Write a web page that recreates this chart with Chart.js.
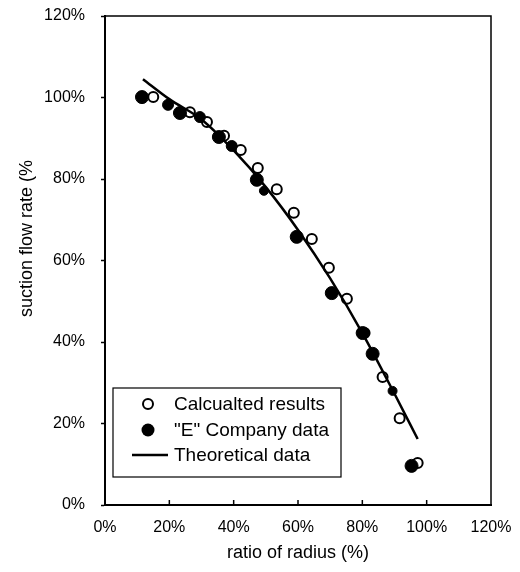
<!DOCTYPE html>
<html><head><meta charset="utf-8">
<script src="https://cdn.jsdelivr.net/npm/chart.js@4"></script>
<style>html,body{margin:0;padding:0;background:#fff;}</style>
</head><body>
<canvas id="c" width="520" height="572"></canvas>
<script>
// ---- data ----
const xTickValues = [0, 20, 40, 60, 80, 100, 120];
const yTickValues = [0, 20, 40, 60, 80, 100, 120];
const seriesNames = ['Calcualted results', '"E" Company data', 'Theoretical data'];
const xTitle = 'ratio of radius (%)';
const yTitle = 'suction flow rate (%';

const calcX = [15.0, 26.4, 31.7, 37.0, 42.2, 47.5, 53.4, 58.7, 64.3, 69.6, 75.2, 80.7, 86.3, 91.6, 97.2];
const calcY = [100.1, 96.4, 94.0, 90.6, 87.1, 82.7, 77.5, 71.7, 65.3, 58.2, 50.6, 42.2, 31.4, 21.3, 10.3];

const compX = [11.5, 19.6, 23.3, 29.5, 35.4, 39.4, 47.2, 49.4, 59.6, 70.5, 80.1, 83.2, 89.4, 95.3];
const compY = [100.1, 98.2, 96.2, 95.2, 90.3, 88.1, 79.8, 77.1, 65.8, 52.0, 42.2, 37.1, 28.0, 9.6];

const theoX = [11.8, 20, 30, 40, 50, 60, 70, 80, 90, 97.2];
const theoY = [104.5, 99.6, 94.6, 87.0, 78.0, 67.5, 55.6, 42.2, 27.3, 16.2];

const toPts = (xs, ys) => xs.map((x, i) => ({x: x, y: ys[i]}));
const FONT = '"Liberation Sans", Arial, sans-serif';

const framePlugin = {
  id: 'frame',
  beforeDatasetsDraw(chart) {
    const {ctx, chartArea: a, scales} = chart;
    ctx.save();
    ctx.strokeStyle = '#000';
    ctx.lineWidth = 1.5;
    ctx.strokeRect(a.left, a.top, a.right - a.left, a.bottom - a.top);
    xTickValues.forEach(v => {
      if (v === 0 || v === 120) return;
      const px = scales.x.getPixelForValue(v);
      ctx.beginPath(); ctx.moveTo(px, a.bottom); ctx.lineTo(px, a.bottom - 5); ctx.stroke();
    });
    // y axis title (offset upward as in the reference)
    ctx.translate(27, (a.top + a.bottom) / 2 - 22);
    ctx.rotate(-Math.PI / 2);
    ctx.font = '18px ' + FONT;
    ctx.fillStyle = '#000';
    ctx.textAlign = 'center';
    ctx.textBaseline = 'middle';
    ctx.fillText(yTitle, 0, 0);
    ctx.restore();
  }
};

const legendPlugin = {
  id: 'boxLegend',
  afterDraw(chart) {
    const {ctx, chartArea: a} = chart;
    const left = a.left + 8, top = a.bottom - 117, w = 228, h = 89;
    ctx.save();
    ctx.fillStyle = '#fff';
    ctx.fillRect(left, top, w, h);
    ctx.strokeStyle = '#000';
    ctx.lineWidth = 1.2;
    ctx.strokeRect(left, top, w, h);
    ctx.font = '19px ' + FONT;
    ctx.textBaseline = 'middle';
    const rows = [top + 16, top + 42, top + 67];
    const mx = left + 35;
    ctx.beginPath(); ctx.arc(mx, rows[0], 5, 0, Math.PI * 2);
    ctx.fillStyle = '#fff'; ctx.fill(); ctx.lineWidth = 2; ctx.strokeStyle = '#000'; ctx.stroke();
    ctx.beginPath(); ctx.arc(mx, rows[1], 6.5, 0, Math.PI * 2);
    ctx.fillStyle = '#000'; ctx.fill();
    ctx.beginPath(); ctx.moveTo(left + 19, rows[2]); ctx.lineTo(left + 55, rows[2]);
    ctx.lineWidth = 2.5; ctx.stroke();
    ctx.fillStyle = '#000';
    chart.data.datasets.forEach((d, i) => ctx.fillText(d.label, left + 61, rows[i] + 1));
    ctx.restore();
  }
};

new Chart(document.getElementById('c'), {
  type: 'scatter',
  data: {
    datasets: [
      {
        label: seriesNames[0],
        data: toPts(calcX, calcY),
        pointStyle: 'circle',
        pointRadius: 5,
        pointBorderWidth: 2,
        pointBackgroundColor: '#fff',
        pointBorderColor: '#000',
        showLine: false,
        order: 2
      },
      {
        label: seriesNames[1],
        data: toPts(compX, compY),
        pointStyle: 'circle',
        pointRadius: [6.5, 5.5, 6.5, 5.5, 6.5, 5.5, 6.5, 4.5, 6.5, 6.5, 6.5, 6.5, 4.5, 6.5],
        pointBorderWidth: 1,
        pointBackgroundColor: '#000',
        pointBorderColor: '#000',
        showLine: false,
        order: 0
      },
      {
        label: seriesNames[2],
        data: toPts(theoX, theoY),
        showLine: true,
        pointRadius: 0,
        borderColor: '#000',
        borderWidth: 2.5,
        cubicInterpolationMode: 'monotone',
        fill: false,
        order: 1
      }
    ]
  },
  options: {
    responsive: false,
    animation: false,
    devicePixelRatio: 1,
    layout: {padding: {left: 0, right: 29, top: 16, bottom: 0}},
    plugins: {legend: {display: false}, tooltip: {enabled: false}},
    scales: {
      x: {
        type: 'linear', min: 0, max: 120,
        afterBuildTicks: s => { s.ticks = xTickValues.map(v => ({value: v})); },
        afterFit: s => { s.height = 67; s.paddingLeft = 0; s.paddingRight = 0; },
        ticks: {callback: v => v + '%', color: '#000', font: {family: FONT, size: 16}, padding: 13, maxRotation: 0},
        grid: {display: true, drawOnChartArea: false, drawTicks: false, color: '#000'},
        border: {display: true, color: '#000', width: 2},
        title: {display: true, text: xTitle, color: '#000', font: {family: FONT, size: 18}, padding: {top: 0, bottom: 8}}
      },
      y: {
        type: 'linear', min: 0, max: 120,
        afterBuildTicks: s => { s.ticks = yTickValues.map(v => ({value: v})); },
        afterFit: s => { s.width = 105; s.paddingTop = 0; s.paddingBottom = 0; },
        ticks: {callback: v => v + '%', color: '#000', font: {family: FONT, size: 16}, padding: 16},
        grid: {display: true, drawOnChartArea: false, drawTicks: true, tickLength: 4, color: '#000', tickWidth: 1.5},
        border: {display: true, color: '#000', width: 2},
        title: {display: false}
      }
    }
  },
  plugins: [framePlugin, legendPlugin]
});
</script>
</body></html>
